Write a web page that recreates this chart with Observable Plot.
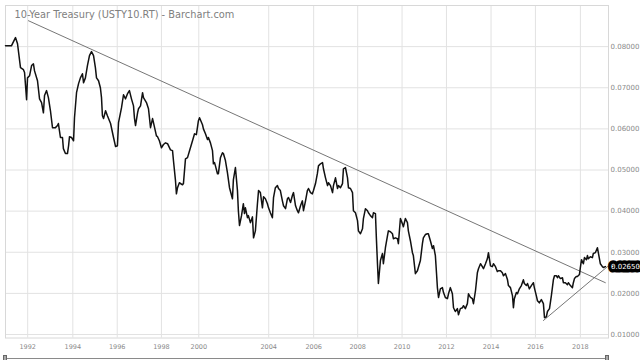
<!DOCTYPE html>
<html><head><meta charset="utf-8">
<script src="https://cdn.jsdelivr.net/npm/d3@7"></script>
<script src="https://cdn.jsdelivr.net/npm/@observablehq/plot@0.6"></script>
<style>
body{margin:0;background:#fff;font-family:"DejaVu Sans",sans-serif;}
#wrap{position:relative;width:640px;height:360px;overflow:hidden;background:#fff;}
#scroll{position:absolute;left:5px;top:358px;width:602px;height:1px;background:#8a8a8a;}
.handle{position:absolute;top:355px;width:4px;height:8px;background:#aaa;border:1px solid #666;box-sizing:border-box;}
</style></head><body><div id="wrap"></div><script>
const title = "10-Year Treasury (USTY10.RT) - Barchart.com";
// bar index (chart periods since Jan 1991)
const bars = [0,3.2,5.4,6.5,8.1,9.7,10.3,11.4,11.9,13.0,14.1,15.1,15.7,17.3,18.4,19.5,20.5,21.1,22.2,23.2,24.3,25.4,27.0,28.1,28.6,29.7,30.8,31.3,32.4,33.5,34.1,34.6,35.7,36.8,37.3,38.4,39.5,40.5,41.6,42.2,43.2,44.3,45.4,46.5,47.6,48.6,49.2,50.3,51.3,51.9,52.4,53.0,54.1,55.1,56.8,58.4,59.5,60.5,61.1,62.7,63.8,64.9,65.9,67.0,68.1,69.2,69.7,70.3,71.4,71.9,73.0,74.1,74.6,76.2,77.3,78.4,79.5,80.0,81.6,82.2,83.2,84.3,85.4,86.5,87.6,89.2,90.3,90.8,91.9,92.4,93.0,94.0,95.7,96.2,97.3,98.4,99.5,101.1,102.2,103.2,104.3,104.9,106.5,107.0,108.1,109.2,109.7,110.8,111.9,112.4,113.0,113.5,114.6,115.1,116.2,117.3,117.8,118.9,120.0,121.1,122.7,123.2,124.3,125.4,125.9,126.5,127.6,128.6,129.2,129.7,130.8,131.3,132.4,133.5,134.1,135.1,136.2,136.8,137.8,138.9,139.5,140.5,141.6,142.2,143.2,144.3,144.9,145.9,147.0,147.6,148.6,149.7,150.3,151.4,152.4,153.0,154.1,155.1,155.7,156.8,157.8,158.4,159.5,160.5,161.1,162.2,163.2,163.8,164.9,165.9,166.5,167.6,168.6,169.2,170.3,171.4,171.9,173.0,174.1,174.6,175.7,176.8,177.3,178.4,179.5,180.0,181.1,182.2,182.7,183.8,184.9,185.4,186.5,187.6,188.1,189.2,190.3,190.8,191.9,193.0,193.5,194.6,195.7,196.2,197.3,198.4,198.9,200.0,200.5,201.1,201.6,202.7,203.8,204.3,205.4,206.5,207.0,208.1,209.2,209.7,210.8,211.9,212.4,213.5,214.6,215.1,216.2,217.3,217.8,218.9,220.0,220.5,221.6,222.7,223.2,224.3,225.4,225.9,227.0,228.1,228.6,229.7,230.8,231.4,232.4,233.0,233.5,234.1,235.1,236.2,236.8,237.8,238.9,239.5,240.5,241.6,242.2,243.2,244.3,244.9,245.9,247.0,247.6,248.6,249.7,250.3,251.4,252.4,253.0,254.1,255.1,255.7,256.8,257.8,258.4,259.5,260.5,261.1,262.2,263.2,263.8,264.9,265.9,266.5,267.6,268.6,269.2,270.3,271.4,271.9,273.0,274.1,274.6,275.1,276.2,276.8,277.8,278.9,280.0,280.5,281.6,282.2,283.2,284.3,285.4,285.9,287.0,287.6,288.6,289.7,290.8,291.4,292.4,293.0,294.1,295.1,296.2,296.8,297.8,298.4,298.9,300.0,301.1,301.6,302.7,303.8,304.3,305.4,306.5,307.0,307.6,308.6,309.2,310.3,310.8,311.4,312.4,313.0,314.1,314.6,315.1,316.2,317.3,317.8,318.9,320.0,320.5,321.6,322.7,323.2,324.3];
const yields = [0.0802,0.0802,0.0822,0.0807,0.0749,0.0744,0.0737,0.0671,0.0724,0.0729,0.0754,0.0758,0.0741,0.0717,0.0673,0.0664,0.0639,0.0681,0.0693,0.0676,0.0644,0.0603,0.0603,0.0608,0.0613,0.0579,0.0579,0.0552,0.0540,0.0540,0.0559,0.0581,0.0579,0.0571,0.0627,0.0688,0.0710,0.0724,0.0734,0.0712,0.0724,0.0754,0.0778,0.0788,0.0778,0.0749,0.0724,0.0717,0.0700,0.0676,0.0632,0.0625,0.0644,0.0632,0.0613,0.0579,0.0557,0.0559,0.0615,0.0651,0.0683,0.0673,0.0685,0.0693,0.0673,0.0656,0.0627,0.0608,0.0639,0.0649,0.0656,0.0688,0.0676,0.0664,0.0649,0.0603,0.0625,0.0615,0.0583,0.0581,0.0571,0.0554,0.0562,0.0566,0.0564,0.0549,0.0547,0.0523,0.0474,0.0442,0.0457,0.0469,0.0464,0.0467,0.0527,0.0530,0.0547,0.0571,0.0588,0.0586,0.0620,0.0627,0.0610,0.0600,0.0588,0.0574,0.0579,0.0566,0.0547,0.0515,0.0518,0.0510,0.0491,0.0491,0.0530,0.0542,0.0540,0.0523,0.0493,0.0457,0.0430,0.0476,0.0506,0.0450,0.0401,0.0365,0.0389,0.0418,0.0394,0.0408,0.0384,0.0389,0.0372,0.0386,0.0335,0.0352,0.0418,0.0450,0.0445,0.0408,0.0435,0.0430,0.0418,0.0408,0.0396,0.0384,0.0433,0.0457,0.0462,0.0455,0.0450,0.0425,0.0413,0.0406,0.0430,0.0433,0.0421,0.0438,0.0445,0.0413,0.0401,0.0396,0.0413,0.0425,0.0401,0.0425,0.0450,0.0455,0.0445,0.0442,0.0450,0.0467,0.0491,0.0510,0.0515,0.0518,0.0503,0.0481,0.0462,0.0469,0.0462,0.0445,0.0462,0.0481,0.0455,0.0462,0.0457,0.0467,0.0503,0.0506,0.0481,0.0457,0.0455,0.0445,0.0401,0.0396,0.0377,0.0352,0.0345,0.0357,0.0382,0.0406,0.0401,0.0396,0.0389,0.0384,0.0396,0.0394,0.0335,0.0272,0.0224,0.0280,0.0297,0.0272,0.0311,0.0340,0.0352,0.0350,0.0345,0.0333,0.0335,0.0333,0.0321,0.0382,0.0369,0.0362,0.0382,0.0372,0.0352,0.0328,0.0299,0.0292,0.0248,0.0255,0.0263,0.0280,0.0321,0.0335,0.0343,0.0345,0.0345,0.0328,0.0309,0.0316,0.0292,0.0250,0.0214,0.0190,0.0211,0.0214,0.0202,0.0190,0.0187,0.0199,0.0214,0.0199,0.0165,0.0156,0.0163,0.0148,0.0163,0.0165,0.0170,0.0163,0.0175,0.0199,0.0190,0.0187,0.0175,0.0207,0.0250,0.0260,0.0272,0.0265,0.0260,0.0272,0.0284,0.0299,0.0267,0.0265,0.0272,0.0265,0.0253,0.0255,0.0255,0.0250,0.0243,0.0248,0.0233,0.0219,0.0214,0.0194,0.0165,0.0187,0.0202,0.0199,0.0211,0.0219,0.0233,0.0224,0.0219,0.0224,0.0211,0.0219,0.0226,0.0214,0.0194,0.0182,0.0177,0.0185,0.0175,0.0141,0.0143,0.0156,0.0163,0.0194,0.0233,0.0243,0.0243,0.0238,0.0243,0.0236,0.0238,0.0226,0.0226,0.0221,0.0226,0.0219,0.0214,0.0226,0.0236,0.0241,0.0241,0.0246,0.0263,0.0282,0.0272,0.0287,0.0282,0.0292,0.0284,0.0289,0.0287,0.0297,0.0299,0.0311,0.0299,0.0272,0.0265,0.0263,0.0265];
const lastYield = 0.0265;
// trend lines (bar, yield) endpoints
const upperBars = [12.4, 324.3];
const upperYields = [0.0863, 0.0226];
const lowerBars = [290.8, 325.4];
const lowerYields = [0.0134, 0.0265];
// axes
const tickBars = [12, 36.4, 60.4, 84.3, 104.5, 142.3, 166.6, 190.4, 214.4, 238.4, 262.5, 286.5, 310.8];
const tickLabels = ["1992","1994","1996","1998","2000","2004","2006","2008","2010","2012","2014","2016","2018"];
const yTicks = [0.01,0.02,0.03,0.04,0.05,0.06,0.07,0.08];

const series = bars.map((b, i) => ({bar: b, y: yields[i]}));
const upper = upperBars.map((b, i) => ({bar: b, y: upperYields[i]}));
const lower = lowerBars.map((b, i) => ({bar: b, y: lowerYields[i]}));
const labelOf = new Map(tickBars.map((b, i) => [b, tickLabels[i]]));

const chart = Plot.plot({
  width: 640, height: 353,
  marginLeft: 5, marginRight: 32, marginTop: 5, marginBottom: 15.5,
  style: {fontFamily: '"DejaVu Sans", sans-serif', background: "#fff", color: "#8a8a8a", overflow: "visible"},
  x: {domain: [0, 326]},
  y: {domain: [0.00915, 0.09]},
  marks: [
    Plot.gridX(tickBars, {stroke: "#e2e2e2", strokeOpacity: 1}),
    Plot.gridY(yTicks, {stroke: "#e2e2e2", strokeOpacity: 1}),
    Plot.frame({stroke: "#d8d8d8"}),
    Plot.axisY({ticks: yTicks, anchor: "right", tickSize: 0, tickPadding: 2, tickFormat: d => d.toFixed(5), fontSize: 7, label: null}),
    Plot.axisX({ticks: tickBars, anchor: "bottom", tickSize: 0, tickPadding: 6, tickFormat: d => labelOf.get(d), fontSize: 6.5, label: null}),
    Plot.line(upper, {x: "bar", y: "y", stroke: "#666", strokeWidth: 0.9}),
    Plot.line(lower, {x: "bar", y: "y", stroke: "#666", strokeWidth: 0.9}),
    Plot.line(series, {x: "bar", y: "y", stroke: "#111", strokeWidth: 1.5}),
    Plot.text([title], {frameAnchor: "top-left", dx: 9, dy: 6, lineAnchor: "top", textAnchor: "start", fontSize: 9.8, fill: "#808080"}),
    Plot.text([lastYield], {y: d => d, frameAnchor: "right", dx: 2.5, textAnchor: "start", text: d => d.toFixed(5), fontSize: 7, fill: "#fff", stroke: "#000", strokeWidth: 7, strokeLinejoin: "round", paintOrder: "stroke"})
  ]
});
const wrap = document.getElementById("wrap");
wrap.appendChild(chart);
const sc = document.createElement("div"); sc.id = "scroll"; wrap.appendChild(sc);
[3, 605].forEach(l => { const h = document.createElement("div"); h.className = "handle"; h.style.left = l + "px"; wrap.appendChild(h); });
</script></body></html>
